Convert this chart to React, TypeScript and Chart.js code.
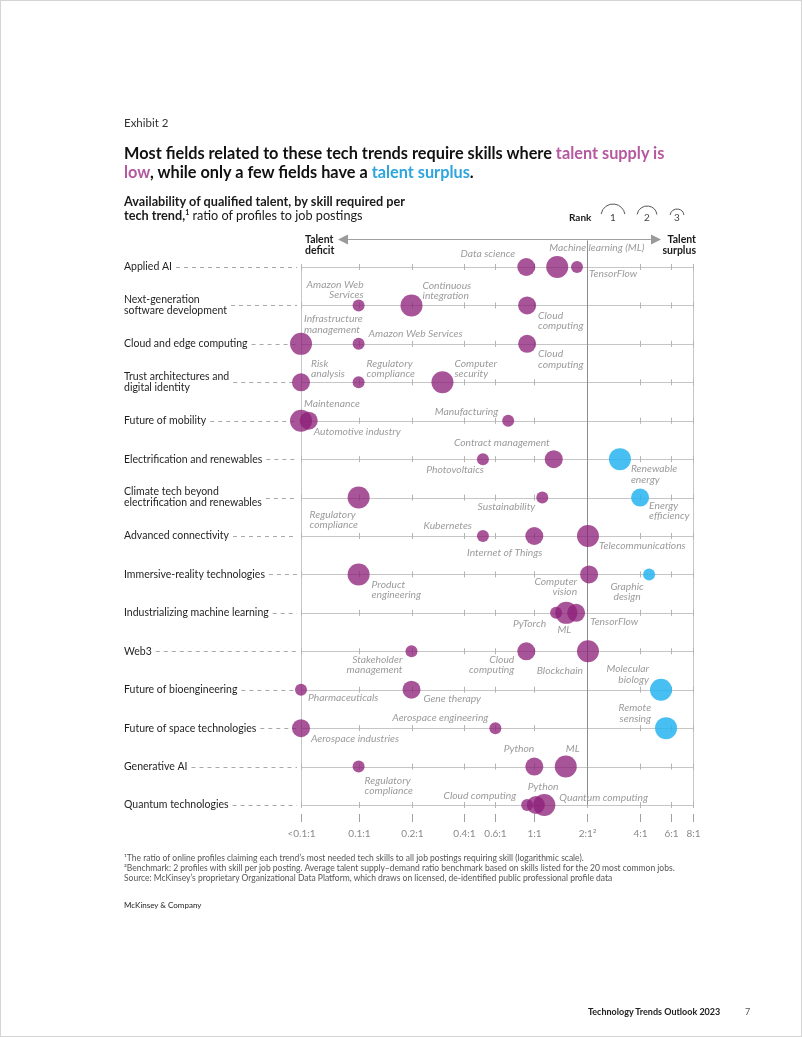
import React, { useEffect, useRef } from "react";
import { Chart, registerables } from "chart.js";
Chart.register(...registerables);

const FONT = "Lato, 'Liberation Sans', Arial, sans-serif";

const CATEGORIES = [
  "Applied AI",
  "Next-generation\nsoftware development",
  "Cloud and edge computing",
  "Trust architectures and\ndigital identity",
  "Future of mobility",
  "Electrification and renewables",
  "Climate tech beyond\nelectrification and renewables",
  "Advanced connectivity",
  "Immersive-reality technologies",
  "Industrializing machine learning",
  "Web3",
  "Future of bioengineering",
  "Future of space technologies",
  "Generative AI",
  "Quantum technologies",
];

// value used for the "<0.1:1" column
const BELOW_MIN = 0.047;
const BENCHMARK = 2;

const X_TICKS = [BELOW_MIN, 0.1, 0.2, 0.4, 0.6, 1, 2, 4, 6, 8];
const X_TICK_LABELS = ["<0.1:1", "0.1:1", "0.2:1", "0.4:1", "0.6:1", "1:1", "2:1²", "4:1", "6:1", "8:1"];

const SKILL_ROW = [
  0, 0, 0, 1, 1, 1, 2, 2, 2, 3, 3, 3, 4, 4, 4, 5, 5, 5, 6, 6, 6, 7, 7, 7,
  8, 8, 8, 9, 9, 9, 10, 10, 10, 11, 11, 11, 12, 12, 12, 13, 13, 13, 14, 14, 14,
];

const SKILL_NAMES = [
  "Data science", "Machine learning (ML)", "TensorFlow",
  "Amazon Web\nServices", "Continuous\nintegration", "Cloud\ncomputing",
  "Infrastructure\nmanagement", "Amazon Web Services", "Cloud\ncomputing",
  "Risk\nanalysis", "Regulatory\ncompliance", "Computer\nsecurity",
  "Maintenance", "Automotive industry", "Manufacturing",
  "Photovoltaics", "Contract management", "Renewable\nenergy",
  "Regulatory\ncompliance", "Sustainability", "Energy\nefficiency",
  "Kubernetes", "Internet of Things", "Telecommunications",
  "Product\nengineering", "Computer\nvision", "Graphic\ndesign",
  "PyTorch", "ML", "TensorFlow",
  "Stakeholder\nmanagement", "Cloud\ncomputing", "Blockchain",
  "Pharmaceuticals", "Gene therapy", "Molecular\nbiology",
  "Aerospace industries", "Aerospace engineering", "Remote\nsensing",
  "Regulatory\ncompliance", "Python", "ML",
  "Cloud computing", "Python", "Quantum computing",
];

const SKILL_RATIO = [
  0.9, 1.35, 1.75,
  0.1, 0.2, 0.91,
  BELOW_MIN, 0.1, 0.91,
  BELOW_MIN, 0.1, 0.3,
  BELOW_MIN, 0.052, 0.71,
  0.51, 1.29, 3.07,
  0.1, 1.11, 4.0,
  0.51, 1.0, 2.02,
  0.1, 2.05, 4.5,
  1.33, 1.52, 1.73,
  0.2, 0.9, 2.02,
  BELOW_MIN, 0.2, 5.26,
  BELOW_MIN, 0.6, 5.62,
  0.1, 1.0, 1.51,
  0.91, 1.02, 1.14,
];

const SKILL_RANK = [
  2, 1, 3, 3, 1, 2, 1, 3, 2, 2, 3, 1, 1, 2, 3, 3, 2, 1, 1, 3, 2, 3, 2, 1,
  1, 2, 3, 3, 1, 2, 3, 2, 1, 3, 2, 1, 2, 3, 1, 3, 2, 1, 3, 2, 1,
];

// D = talent deficit, S = talent surplus
const SKILL_SIDE = [
  "D", "D", "D", "D", "D", "D", "D", "D", "D", "D", "D", "D", "D", "D", "D",
  "D", "D", "S", "D", "D", "S", "D", "D", "D", "D", "D", "S", "D", "D", "D",
  "D", "D", "D", "D", "D", "S", "D", "D", "S", "D", "D", "D", "D", "D", "D",
];

// ---- layout / style (not data) ----
const RANK_RADIUS: Record<number, number> = { 1: 11, 2: 9, 3: 6 };
const PURPLE = "rgba(140, 30, 120, 0.76)";
const BLUE = "rgba(40, 180, 240, 0.85)";

type Align = "left" | "right" | "center";
const LABEL_OFFSETS: [number, number, Align][] = [
  [-11, -13, "right"], [-8, -19, "left"], [12, 7, "left"],
  [5, -21, "right"], [11, -20, "left"], [11, 10, "left"],
  [3, -25, "left"], [10, -10, "left"], [11, 10, "left"],
  [10, -19, "left"], [8, -19, "left"], [12, -19, "left"],
  [3, -17, "left"], [5, 11, "left"], [-10, -9, "right"],
  [1, 11, "right"], [-4, -16, "right"], [11, 10, "left"],
  [-49, 17, "left"], [-7, 9, "right"], [9, 8, "left"],
  [-11, -10, "right"], [8, 17, "right"], [11, 10, "left"],
  [13, 10, "left"], [-12, 7, "right"], [-22, 12, "center"],
  [-10, 11, "right"], [-2, 17, "center"], [14, 9, "left"],
  [-9, 8, "right"], [-12, 8, "right"], [-5, 19, "right"],
  [7, 8, "left"], [12, 9, "left"], [-12, -21, "right"],
  [10, 11, "left"], [-7, -10, "right"], [-15, -20, "right"],
  [6, 14, "left"], [0, -18, "right"], [0, -18, "left"],
  [-11, -9, "right"], [-8, -18, "left"], [15, -7, "left"],
];

const W = 802;
const H = 1037;
const PLOT = { left: 300, right: 692, top: 266, bottom: 804 };
const CAT_X = 123;

function line(ctx: CanvasRenderingContext2D, x1: number, y1: number, x2: number, y2: number) {
  ctx.beginPath();
  ctx.moveTo(x1, y1);
  ctx.lineTo(x2, y2);
  ctx.stroke();
}

const decorPlugin = {
  id: "decor",
  beforeDatasetsDraw(chart: any) {
    const ctx: CanvasRenderingContext2D = chart.ctx;
    const xs = chart.scales.x;
    const ys = chart.scales.y;
    const a = chart.chartArea;
    ctx.save();
    const crisp = (v: number) => Math.round(v) + 0.5;

    // row lines
    ctx.strokeStyle = "#c6c6c6";
    ctx.lineWidth = 1;
    for (let i = 0; i < CATEGORIES.length; i++) {
      const y = crisp(ys.getPixelForValue(i));
      line(ctx, a.left, y, a.right, y);
    }
    // left / right borders
    line(ctx, crisp(a.left), a.top, crisp(a.left), a.bottom);
    line(ctx, crisp(a.right), a.top, crisp(a.right), a.bottom);

    // small ticks on rows
    ctx.strokeStyle = "#b4b4b4";
    for (let i = 0; i < CATEGORIES.length; i++) {
      const y = ys.getPixelForValue(i);
      for (const t of X_TICKS) {
        const x = crisp(xs.getPixelForValue(t));
        line(ctx, x, y - 3, x, y + 3);
      }
    }

    // arrow
    const ay = crisp(a.top - 28);
    ctx.strokeStyle = "#a0a0a0";
    line(ctx, a.left + 46, ay, a.right - 41, ay);
    ctx.fillStyle = "#9a9a9a";
    ctx.beginPath();
    ctx.moveTo(a.left + 37, ay);
    ctx.lineTo(a.left + 47, ay - 5);
    ctx.lineTo(a.left + 47, ay + 5);
    ctx.closePath();
    ctx.fill();
    ctx.beginPath();
    ctx.moveTo(a.right - 32, ay);
    ctx.lineTo(a.right - 42, ay - 5);
    ctx.lineTo(a.right - 42, ay + 5);
    ctx.closePath();
    ctx.fill();

    // benchmark line
    const bx = crisp(xs.getPixelForValue(BENCHMARK));
    ctx.strokeStyle = "#8c8c8c";
    line(ctx, bx, ay + 1, bx, a.bottom);

    // talent deficit / surplus
    ctx.fillStyle = "#1a1a1a";
    ctx.font = `bold 10.5px ${FONT}`;
    ctx.textBaseline = "middle";
    ctx.textAlign = "left";
    ctx.fillText("Talent", a.left + 4, ay);
    ctx.fillText("deficit", a.left + 4, ay + 11);
    ctx.textAlign = "right";
    ctx.fillText("Talent", a.right + 3, ay);
    ctx.fillText("surplus", a.right + 3, ay + 11);

    // rank legend
    ctx.textAlign = "left";
    ctx.font = `bold 10px ${FONT}`;
    ctx.fillText("Rank", 568, 217);
    const legendX = [612, 646, 676];
    [1, 2, 3].forEach((rk, k) => {
      const r = RANK_RADIUS[rk] + 1;
      const cx = legendX[k];
      const cy = 215;
      ctx.strokeStyle = "#555";
      ctx.beginPath();
      ctx.arc(cx, cy, r, Math.PI * 1.05, Math.PI * 1.95);
      ctx.stroke();
      ctx.fillStyle = "#444";
      ctx.font = `10px ${FONT}`;
      ctx.textAlign = "center";
      ctx.fillText(String(rk), cx, 217);
    });

    // category labels + dashed leaders
    ctx.font = `10.5px ${FONT}`;
    ctx.textAlign = "left";
    ctx.fillStyle = "#1f1f1f";
    for (let i = 0; i < CATEGORIES.length; i++) {
      const y = ys.getPixelForValue(i);
      const parts = CATEGORIES[i].split("\n");
      let maxW = 0;
      parts.forEach((p, k) => {
        const ly = parts.length === 1 ? y : y - 5.5 + k * 11;
        ctx.fillText(p, CAT_X, ly);
        maxW = Math.max(maxW, ctx.measureText(p).width);
      });
      ctx.save();
      ctx.strokeStyle = "#a8a8a8";
      ctx.setLineDash([4, 4]);
      line(ctx, CAT_X + maxW + 4, crisp(y), a.left - 4, crisp(y));
      ctx.restore();
    }

    // x axis ticks and labels
    ctx.strokeStyle = "#a0a0a0";
    ctx.fillStyle = "#8a8a8a";
    ctx.font = `10px ${FONT}`;
    ctx.textAlign = "center";
    X_TICKS.forEach((t, k) => {
      const x = crisp(xs.getPixelForValue(t));
      line(ctx, x, a.bottom + 9, x, a.bottom + 17);
      ctx.fillText(X_TICK_LABELS[k], x, a.bottom + 29);
    });
    ctx.restore();
  },
  afterDatasetsDraw(chart: any) {
    const ctx: CanvasRenderingContext2D = chart.ctx;
    const xs = chart.scales.x;
    const ys = chart.scales.y;
    ctx.save();
    ctx.font = `italic 10.3px ${FONT}`;
    ctx.fillStyle = "#9b9b9b";
    ctx.textBaseline = "middle";
    SKILL_NAMES.forEach((name, i) => {
      const px = xs.getPixelForValue(SKILL_RATIO[i]);
      const py = ys.getPixelForValue(SKILL_ROW[i]);
      const [dx, dy, align] = LABEL_OFFSETS[i];
      ctx.textAlign = align;
      name.split("\n").forEach((p, k) => {
        ctx.fillText(p, px + dx, py + dy + k * 10.5);
      });
    });
    ctx.restore();
  },
};

function buildPoints(side: string) {
  const pts: { x: number; y: number; r: number }[] = [];
  SKILL_NAMES.forEach((_, i) => {
    if (SKILL_SIDE[i] !== side) return;
    pts.push({ x: SKILL_RATIO[i], y: SKILL_ROW[i], r: RANK_RADIUS[SKILL_RANK[i]] });
  });
  return pts;
}

function TalentChart() {
  const ref = useRef<HTMLCanvasElement | null>(null);
  useEffect(() => {
    if (!ref.current) return;
    const chart = new Chart(ref.current, {
      type: "bubble",
      data: {
        datasets: [
          { data: buildPoints("D"), backgroundColor: PURPLE, borderWidth: 0, clip: false } as any,
          { data: buildPoints("S"), backgroundColor: BLUE, borderWidth: 0, clip: false } as any,
        ],
      },
      options: {
        responsive: false,
        animation: false,
        devicePixelRatio: 1,
        events: [],
        layout: {
          padding: { left: PLOT.left, right: W - PLOT.right, top: PLOT.top, bottom: H - PLOT.bottom },
        },
        scales: {
          x: { type: "logarithmic", min: BELOW_MIN, max: 8, display: false },
          y: { type: "linear", min: 0, max: CATEGORIES.length - 1, reverse: true, display: false },
        },
        plugins: { legend: { display: false }, tooltip: { enabled: false } },
      },
      plugins: [decorPlugin],
    });
    return () => chart.destroy();
  }, []);
  return (
    <canvas
      ref={ref}
      width={W}
      height={H}
      style={{ position: "absolute", left: 0, top: 0, width: W, height: H, display: "block" }}
    />
  );
}

export default function App() {
  useEffect(() => {
    document.body.style.margin = "0";
  }, []);
  const abs = (top: number, left: number, extra: React.CSSProperties = {}): React.CSSProperties => ({
    position: "absolute",
    top,
    left,
    margin: 0,
    whiteSpace: "nowrap",
    ...extra,
  });
  return (
    <div
      style={{
        position: "relative",
        width: W,
        height: H,
        boxSizing: "border-box",
        border: "1px solid #d4d4d4",
        background: "#fff",
        fontFamily: FONT,
        color: "#1a1a1a",
        overflow: "hidden",
      }}
    >
      <TalentChart />
      <div style={abs(114, 123, { fontSize: 11.5, lineHeight: "16px", color: "#333" })}>Exhibit 2</div>
      <div style={abs(143, 123, { fontSize: 16.3, lineHeight: "18.5px", fontWeight: 700, color: "#111" })}>
        Most fields related to these tech trends require skills where{" "}
        <span style={{ color: "#b4589f" }}>talent supply is</span>
        <br />
        <span style={{ color: "#b4589f" }}>low</span>, while only a few fields have a{" "}
        <span style={{ color: "#2ea5dd" }}>talent surplus</span>.
      </div>
      <div style={abs(193, 123, { fontSize: 12.7, lineHeight: "14px", color: "#1a1a1a" })}>
        <b>Availability of qualified talent, by skill required per</b>
        <br />
        <b>
          tech trend,<sup style={{ fontSize: 7, lineHeight: 0 }}>1</sup>
        </b>{" "}
        ratio of profiles to job postings
      </div>
      <div style={abs(852, 123, { fontSize: 8.5, lineHeight: "10px", color: "#555" })}>
        ¹The ratio of online profiles claiming each trend’s most needed tech skills to all job postings requiring skill (logarithmic scale).
        <br />
        ²Benchmark: 2 profiles with skill per job posting. Average talent supply–demand ratio benchmark based on skills listed for the 20 most common jobs.
        <br />
        Source: McKinsey’s proprietary Organizational Data Platform, which draws on licensed, de-identified public professional profile data
      </div>
      <div style={abs(898, 123, { fontSize: 8, lineHeight: "12px", color: "#222" })}>McKinsey &amp; Company</div>
      <div style={abs(1005, 587, { fontSize: 9, lineHeight: "12px", fontWeight: 700, color: "#222" })}>
        Technology Trends Outlook 2023
      </div>
      <div style={abs(1005, 744, { fontSize: 9, lineHeight: "12px", color: "#555" })}>7</div>
    </div>
  );
}
